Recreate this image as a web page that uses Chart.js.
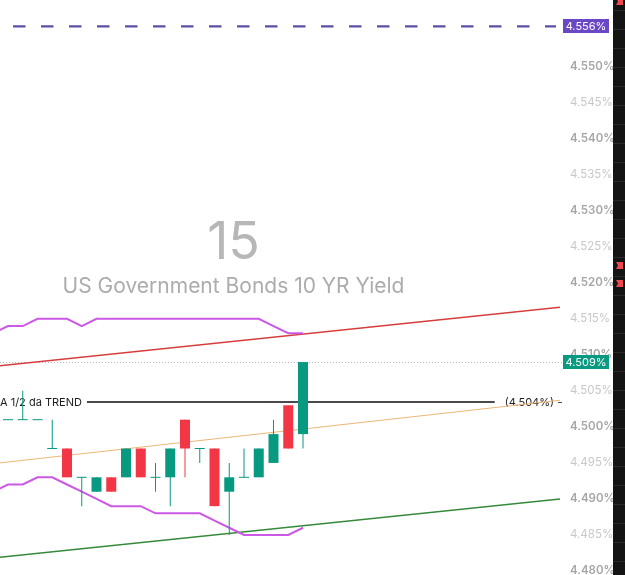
<!DOCTYPE html>
<html><head><meta charset="utf-8">
<script src="https://cdn.jsdelivr.net/npm/chart.js@4/dist/chart.umd.min.js"></script>
<style>html,body{margin:0;padding:0;background:#fff;overflow:hidden}#wrap{width:625px;height:575px;position:relative}</style>
</head><body><div id="wrap"><canvas id="c" width="625" height="575"></canvas></div>
<script>
// ---- data ----
const candleIndex = [0,1,2,3,4,5,6,7,8,9,10,11,12,13,14,15,16,17,18,19,20];
const opens  = [4.501,4.501,4.501,4.497,4.497,4.493,4.491,4.493,4.493,4.497,4.493,4.493,4.501,4.497,4.497,4.491,4.493,4.493,4.495,4.503,4.499];
const highs  = [4.501,4.505,4.501,4.501,4.497,4.493,4.493,4.493,4.497,4.497,4.495,4.497,4.501,4.497,4.497,4.495,4.497,4.497,4.501,4.503,4.509];
const lows   = [4.501,4.501,4.501,4.497,4.493,4.489,4.491,4.491,4.493,4.493,4.491,4.489,4.493,4.495,4.489,4.485,4.493,4.493,4.495,4.497,4.497];
const closes = [4.501,4.501,4.501,4.497,4.493,4.493,4.493,4.491,4.497,4.493,4.493,4.497,4.497,4.497,4.489,4.493,4.493,4.497,4.499,4.497,4.509];

const bandIndex = [-1,0,1,2,3,4,5,6,7,8,9,10,11,12,13,14,15,16,17,18,19,20];
const bandUpper = [4.513,4.514,4.514,4.515,4.515,4.515,4.514,4.515,4.515,4.515,4.515,4.515,4.515,4.515,4.515,4.515,4.515,4.515,4.515,4.514,4.513,4.513];
const bandLower = [4.491,4.492,4.492,4.493,4.493,4.492,4.491,4.490,4.489,4.489,4.489,4.488,4.488,4.488,4.488,4.487,4.486,4.485,4.485,4.485,4.485,4.486];

const trendIndex  = [-0.55, 37.45];
const trendUpper  = [4.5085, 4.5166];
const trendMiddle = [4.4950, 4.5037];
const trendLower  = [4.4819, 4.4900];

const midLevel = 4.5035;
const midLevelText = "A 1/2 da TREND";
const midLevelLabel = "(4.504%)";
const lastPrice = 4.509;
const lastPriceLabel = "4.509%";
const targetLevel = 4.5556;
const targetLabel = "4.556%";

const tickValues = [4.480,4.485,4.490,4.495,4.500,4.505,4.510,4.515,4.520,4.525,4.530,4.535,4.540,4.545,4.550];
const yRange = [4.47944, 4.55926];
const xRange = [-0.5424, 37.424];
const watermarkTitle = "15";
const watermarkSubtitle = "US Government Bonds 10 YR Yield";

// ---- styles ----
const UP = '#089981', DOWN = '#f23645', FONT = 'Inter, "Noto Sans", sans-serif';
const isDoji = i => opens[i] === closes[i];
const candleColor = i => isDoji(i) ? UP : (closes[i] > opens[i] ? UP : DOWN);
const isMajor = c => !!(c && c.tick) && Math.round(c.tick.value * 1000) % 10 === 0;

const bodyIdx = candleIndex.filter(i => !isDoji(i));
const dojiIdx = candleIndex.filter(i => isDoji(i));

const overlay = {
  id: 'overlay',
  beforeDatasetsDraw(chart) {
    const {ctx, chartArea: a, scales: {y}} = chart;
    ctx.save();
    ctx.fillStyle = '#b7b7b7';
    ctx.textAlign = 'center';
    ctx.textBaseline = 'middle';
    const cx = a.left + a.width * 0.417;
    ctx.font = '400 52px ' + FONT;
    ctx.fillText(watermarkTitle, cx, a.top + a.height * 0.423);
    ctx.fillStyle = '#acacac';
    ctx.font = '400 21px ' + FONT;
    ctx.fillText(watermarkSubtitle, cx, a.top + a.height * 0.498);

    const yp = Math.round(y.getPixelForValue(lastPrice)) + 0.5;
    ctx.strokeStyle = '#b9b9b9';
    ctx.lineWidth = 1;
    ctx.setLineDash([1, 2]);
    ctx.beginPath(); ctx.moveTo(a.left, yp); ctx.lineTo(a.right + 3, yp); ctx.stroke();

    const yt = y.getPixelForValue(targetLevel);
    ctx.strokeStyle = '#5e4fa6';
    ctx.lineWidth = 2.2;
    ctx.setLineDash([12.5, 15.5]);
    ctx.lineDashOffset = 15;
    ctx.beginPath(); ctx.moveTo(a.left, yt); ctx.lineTo(a.right - 4, yt); ctx.stroke();
    ctx.setLineDash([]);
    ctx.lineDashOffset = 0;

    const ym = Math.round(y.getPixelForValue(midLevel));
    ctx.font = '400 11px ' + FONT;
    ctx.fillStyle = '#1e1e1e';
    ctx.textAlign = 'left';
    ctx.textBaseline = 'middle';
    ctx.fillText(midLevelText, a.left, ym + 0.5);
    const tw = ctx.measureText(midLevelText).width;
    ctx.textAlign = 'right';
    const labelRight = a.right - 6;
    ctx.fillText(midLevelLabel, labelRight, ym + 0.5);
    const lw = ctx.measureText(midLevelLabel).width;
    ctx.strokeStyle = '#4a4a4a';
    ctx.lineWidth = 2;
    ctx.beginPath(); ctx.moveTo(a.left + tw + 5, ym); ctx.lineTo(labelRight - lw - 10, ym); ctx.stroke();
    ctx.lineWidth = 1;
    ctx.beginPath(); ctx.moveTo(a.right - 2, ym + 0.5); ctx.lineTo(a.right + 2, ym + 0.5); ctx.stroke();
    ctx.restore();
  },
  afterDraw(chart) {
    const {ctx, chartArea: a, scales: {y}, width, height} = chart;
    ctx.save();
    const sx = a.right + 53;
    ctx.fillStyle = '#141414';
    ctx.fillRect(sx, 0, width - sx, height);
    ctx.strokeStyle = '#2a2a2a';
    ctx.lineWidth = 1;
    for (let yy = 10.5; yy < height; yy += 19) {
      ctx.beginPath(); ctx.moveTo(sx, yy); ctx.lineTo(width, yy); ctx.stroke();
    }
    ctx.fillStyle = '#f0484f';
    [ -2, 262, 280 ].forEach(fy => {
      ctx.beginPath();
      ctx.moveTo(sx + 3, fy); ctx.lineTo(sx + 10, fy); ctx.lineTo(sx + 10, fy + 7);
      ctx.lineTo(sx + 3, fy + 7); ctx.lineTo(sx + 5, fy + 3.5); ctx.closePath(); ctx.fill();
    });
    const box = (v, text, bg) => {
      const py = y.getPixelForValue(v);
      ctx.fillStyle = bg;
      ctx.fillRect(a.right + 3, Math.round(py) - 7, 46, 14);
      ctx.fillStyle = '#ffffff';
      ctx.font = '400 11px ' + FONT;
      ctx.textAlign = 'center';
      ctx.textBaseline = 'middle';
      ctx.fillText(text, a.right + 26, Math.round(py) + 0.5);
    };
    box(targetLevel, targetLabel, '#6a47c4');
    box(lastPrice, lastPriceLabel, UP);
    ctx.restore();
  }
};

const lineDs = (xs, ys, color, width, order) => ({
  type: 'line',
  data: xs.map((x, k) => ({x, y: ys[k]})),
  borderColor: color, borderWidth: width,
  pointRadius: 0, tension: 0, fill: false, order
});

new Chart(document.getElementById('c'), {
  type: 'bar',
  data: {
    datasets: [
      {
        type: 'bar', label: 'body', order: 0, grouped: false,
        data: bodyIdx.map(i => ({x: i, y: [opens[i], closes[i]]})),
        backgroundColor: bodyIdx.map(candleColor),
        borderWidth: 0, borderSkipped: false, maxBarThickness: 10
      },
      {
        type: 'bar', label: 'wick', order: 1, grouped: false,
        data: candleIndex.map(i => ({x: i, y: [lows[i], highs[i]]})),
        backgroundColor: candleIndex.map(candleColor),
        borderWidth: 0, borderSkipped: false, maxBarThickness: 1
      },
      {
        type: 'line', label: 'doji', order: 0, showLine: false,
        data: dojiIdx.map(i => ({x: i, y: closes[i]})),
        pointStyle: 'line', pointRadius: 5, pointHoverRadius: 5,
        pointBorderColor: UP, pointBorderWidth: 1
      },
      lineDs(bandIndex, bandUpper, '#cc58e6', 2, 3),
      lineDs(bandIndex, bandLower, '#cc58e6', 2, 3),
      lineDs(trendIndex, trendUpper, '#d63c3c', 1.5, 4),
      lineDs(trendIndex, trendMiddle, '#ecb677', 1, 4),
      lineDs(trendIndex, trendLower, '#35893a', 1.5, 4)
    ]
  },
  options: {
    responsive: false, animation: false, events: [],
    layout: {autoPadding: false, padding: {left: 0, right: 12, top: 0, bottom: 0}},
    plugins: {legend: {display: false}, tooltip: {enabled: false}},
    scales: {
      x: {type: 'linear', offset: false, min: xRange[0], max: xRange[1], display: false},
      y: {
        type: 'linear', position: 'right', min: yRange[0], max: yRange[1],
        grid: {display: false, drawTicks: false}, border: {display: false},
        afterBuildTicks: s => { s.ticks = tickValues.map(v => ({value: v})); },
        afterFit: s => { s.width = 53; s.paddingTop = 0; s.paddingBottom = 0; },
        ticks: {
          padding: 10,
          callback: v => Number(v).toFixed(3) + '%',
          color: c => isMajor(c) ? '#a6a6a6' : '#c8c8c8',
          font: c => ({family: FONT, size: 11.5, weight: isMajor(c) ? '600' : '400'})
        }
      }
    }
  },
  plugins: [overlay]
});
</script></body></html>
